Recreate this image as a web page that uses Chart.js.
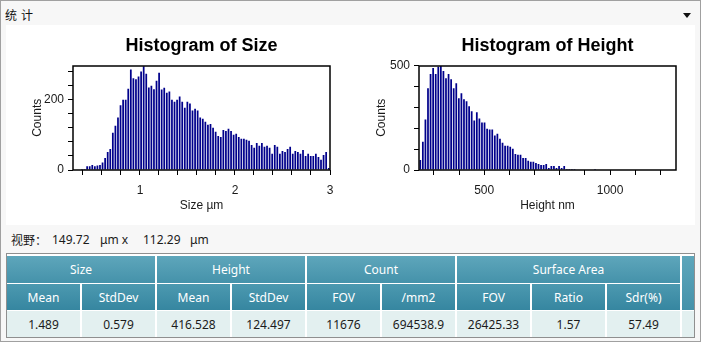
<!DOCTYPE html>
<html>
<head>
<meta charset="utf-8">
<script src="https://cdn.jsdelivr.net/npm/chart.js@4.4.0/dist/chart.umd.min.js"></script>
<style>
html, body { margin: 0; padding: 0; }
body { width: 701px; height: 342px; overflow: hidden; position: relative; background: #f7f7f7;
       font-family: "Noto Sans", "Noto Sans CJK SC", sans-serif; }
#border { position: absolute; left: 0; top: 0; width: 699px; height: 340px; border: 1px solid #a0a0a0; }
#head { position: absolute; left: 5px; top: 6px; font: 12px "Noto Sans CJK SC", sans-serif; letter-spacing: 4px; color: #111; }
#arrow { position: absolute; left: 683px; top: 13px; width: 0; height: 0;
         border-left: 4px solid transparent; border-right: 4px solid transparent; border-top: 5px solid #111; }
#panel { position: absolute; left: 6px; top: 25px; width: 689px; height: 200px; background: #fff; }
canvas { position: absolute; top: 25px; }
#c1 { left: 0; }
#c2 { left: 350px; }
.fov { position: absolute; top: 231px; font-size: 12px; color: #1b1b1b; white-space: pre; }
#tbl { position: absolute; left: 6px; top: 253px; width: 687px; border: 1px solid #8f8f8f; background: #fff;
       padding-top: 2px; display: grid; grid-template-columns: repeat(9, 73px) 12px;
       grid-template-rows: 27px 26px 26px; column-gap: 2px; row-gap: 1px; font-size: 12px; }
#tbl div { display: flex; align-items: center; justify-content: center; }
.h1 { background: linear-gradient(#5ea6bb, #4592aa); color: #fff; }
.h2 { background: linear-gradient(#4c99b0, #3686a0); color: #fff; }
.d { background: #e3f0f0; color: #1b1b1b; }
</style>
</head>
<body>
<div id="border"></div>
<div id="head">统计</div>
<div id="arrow"></div>
<div id="panel"></div>
<canvas id="c1" width="350" height="200"></canvas>
<canvas id="c2" width="351" height="200"></canvas>

<div class="fov" style="left:11px;font-family:'Noto Sans CJK SC',sans-serif;">视野：</div>
<div class="fov" style="left:52px;">149.72</div>
<div class="fov" style="left:100px;">μm x</div>
<div class="fov" style="left:143px;">112.29</div>
<div class="fov" style="left:190px;">μm</div>

<div id="tbl">
  <div class="h1" style="grid-column:1 / 3;">Size</div>
  <div class="h1" style="grid-column:3 / 5;">Height</div>
  <div class="h1" style="grid-column:5 / 7;">Count</div>
  <div class="h1" style="grid-column:7 / 10;">Surface Area</div>
  <div class="h1" style="grid-column:10;grid-row:1 / 3;"></div>
  <div class="h2">Mean</div><div class="h2">StdDev</div>
  <div class="h2">Mean</div><div class="h2">StdDev</div>
  <div class="h2">FOV</div><div class="h2">/mm2</div>
  <div class="h2">FOV</div><div class="h2">Ratio</div><div class="h2">Sdr(%)</div>
  <div class="d">1.489</div><div class="d">0.579</div>
  <div class="d">416.528</div><div class="d">124.497</div>
  <div class="d">11676</div><div class="d">694538.9</div>
  <div class="d">26425.33</div><div class="d">1.57</div><div class="d">57.49</div>
  <div class="d"></div>
</div>

<script>
"use strict";

// size histogram: 100 bins between sizeRange[0] and sizeRange[1]
var sizeRange = [0.295, 3.0];
var sizeCounts = [
    0, 0, 0, 3, 3, 11, 11, 14, 11, 13, 14, 21, 34, 51, 60, 106, 126, 149, 184, 200,
    200, 231, 286, 261, 258, 266, 280, 295, 274, 235, 240, 230, 254, 277, 229, 234, 220, 223, 200, 194,
    200, 209, 194, 177, 194, 189, 169, 174, 169, 149, 146, 137, 129, 131, 120, 109, 97, 94, 114, 111,
    117, 111, 100, 103, 94, 89, 89, 86, 83, 71, 63, 77, 69, 77, 66, 69, 63, 46, 71, 66,
    46, 54, 51, 60, 66, 46, 54, 51, 46, 57, 40, 46, 40, 40, 46, 37, 29, 43, 51, 6
];
var sizeXTicks = [0.4, 0.6, 0.8, 1, 1.2, 1.4, 1.6, 1.8, 2, 2.2, 2.4, 2.6, 2.8, 3];
var sizeXLabels = [1, 2, 3];
var sizeYTicks = [0, 40, 80, 120, 160, 200, 240, 280];
var sizeYLabels = [0, 200];
var sizeYMax = 297;

// height histogram: 100 bins between heightRange[0] and heightRange[1]
var heightRange = [241, 1262];
var heightCounts = [
    48, 135, 242, 392, 460, 489, 460, 494, 498, 474, 440, 460, 435, 392, 416, 344, 368, 339, 329, 305,
    281, 237, 276, 247, 227, 227, 198, 194, 194, 165, 174, 150, 131, 116, 116, 111, 102, 77, 73, 73,
    58, 58, 44, 39, 39, 34, 29, 24, 24, 29, 10, 19, 19, 10, 19, 10, 19, 5, 5, 5,
    5, 0, 0, 0, 0, 0, 0, 0, 5, 0, 0, 0, 0, 0, 0, 0, 0, 0, 0, 0,
    0, 0, 0, 0, 0, 0, 0, 0, 0, 0, 0, 0, 0, 0, 0, 0, 0, 0, 0, 0
];
var heightXTicks = [300, 400, 500, 600, 700, 800, 900, 1000, 1100, 1200];
var heightXLabels = [500, 1000];
var heightYTicks = [0, 100, 200, 300, 400, 500];
var heightYLabels = [0, 500];
var heightYMax = 500;

var barColor = '#00008b';
var textColor = '#1a1a1a';
var fontFamily = '"Liberation Sans", Arial, sans-serif';

// black box round the plot area
var framePlugin = {
    id: 'frame',
    afterDraw: function(chart) {
        var a = chart.chartArea;
        var ctx = chart.ctx;
        ctx.save();
        ctx.strokeStyle = '#000';
        ctx.lineWidth = 1.5;
        ctx.strokeRect(Math.round(a.left), Math.round(a.top), Math.round(a.right - a.left), Math.round(a.bottom - a.top));
        ctx.restore();
    }
};

function binPoints(range, counts) {
    var w = (range[1] - range[0]) / counts.length;
    return counts.map(function(c, i) {
        return { x: range[0] + (i + 0.5) * w, y: c };
    });
}

function fixedTicks(values) {
    return function(scale) {
        scale.ticks = values.map(function(v) { return { value: v }; });
    };
}

function labelOnly(labels) {
    return function(value) {
        return labels.indexOf(value) >= 0 ? String(value) : '';
    };
}

function makeHist(id, cfg) {
    return new Chart(document.getElementById(id).getContext('2d'), {
        type: 'bar',
        data: {
            datasets: [{
                data: binPoints(cfg.range, cfg.counts),
                backgroundColor: barColor,
                borderWidth: 0,
                barPercentage: 0.68,
                categoryPercentage: 1
            }]
        },
        options: {
            responsive: false,
            animation: false,
            events: [],
            layout: { padding: { top: 0, left: 0, right: cfg.padRight, bottom: 0 } },
            plugins: {
                legend: { display: false },
                tooltip: { enabled: false },
                title: {
                    display: true,
                    fullSize: false,
                    text: cfg.title,
                    color: '#000',
                    font: { family: fontFamily, size: 18, weight: 'bold' },
                    padding: { top: 10, bottom: 9 }
                }
            },
            scales: {
                x: {
                    type: 'linear',
                    offset: false,
                    min: cfg.range[0],
                    max: cfg.range[1],
                    afterBuildTicks: fixedTicks(cfg.xTicks),
                    afterFit: function(s) { s.height = 55; },
                    grid: { offset: false, drawOnChartArea: false, drawTicks: true, tickLength: 5, color: '#000' },
                    border: { display: false },
                    ticks: {
                        autoSkip: false, maxRotation: 0, padding: 8,
                        color: textColor, font: { family: fontFamily, size: 12 },
                        callback: labelOnly(cfg.xLabels)
                    },
                    title: {
                        display: true, text: cfg.xTitle, color: textColor,
                        font: { family: fontFamily, size: 12 },
                        padding: { top: 0, bottom: 12 }
                    }
                },
                y: {
                    min: 0,
                    max: cfg.yMax,
                    afterBuildTicks: fixedTicks(cfg.yTicks),
                    afterFit: function(s) { s.width = cfg.yWidth; },
                    grid: { drawOnChartArea: false, drawTicks: true, tickLength: 5, color: '#000' },
                    border: { display: false },
                    ticks: {
                        autoSkip: false, padding: 4,
                        color: textColor, font: { family: fontFamily, size: 12 },
                        callback: labelOnly(cfg.yLabels)
                    },
                    title: {
                        display: true, text: 'Counts', color: textColor,
                        font: { family: fontFamily, size: 12 },
                        padding: { top: cfg.yTitlePad, bottom: 0 }
                    }
                }
            }
        },
        plugins: [framePlugin]
    });
}

makeHist('c1', {
    title: 'Histogram of Size', xTitle: 'Size µm',
    range: sizeRange, counts: sizeCounts,
    xTicks: sizeXTicks, xLabels: sizeXLabels,
    yTicks: sizeYTicks, yLabels: sizeYLabels, yMax: sizeYMax,
    yWidth: 73, yTitlePad: 30, padRight: 20
});

makeHist('c2', {
    title: 'Histogram of Height', xTitle: 'Height nm',
    range: heightRange, counts: heightCounts,
    xTicks: heightXTicks, xLabels: heightXLabels,
    yTicks: heightYTicks, yLabels: heightYLabels, yMax: heightYMax,
    yWidth: 69, yTitlePad: 24, padRight: 25
});
</script>
</body>
</html>
